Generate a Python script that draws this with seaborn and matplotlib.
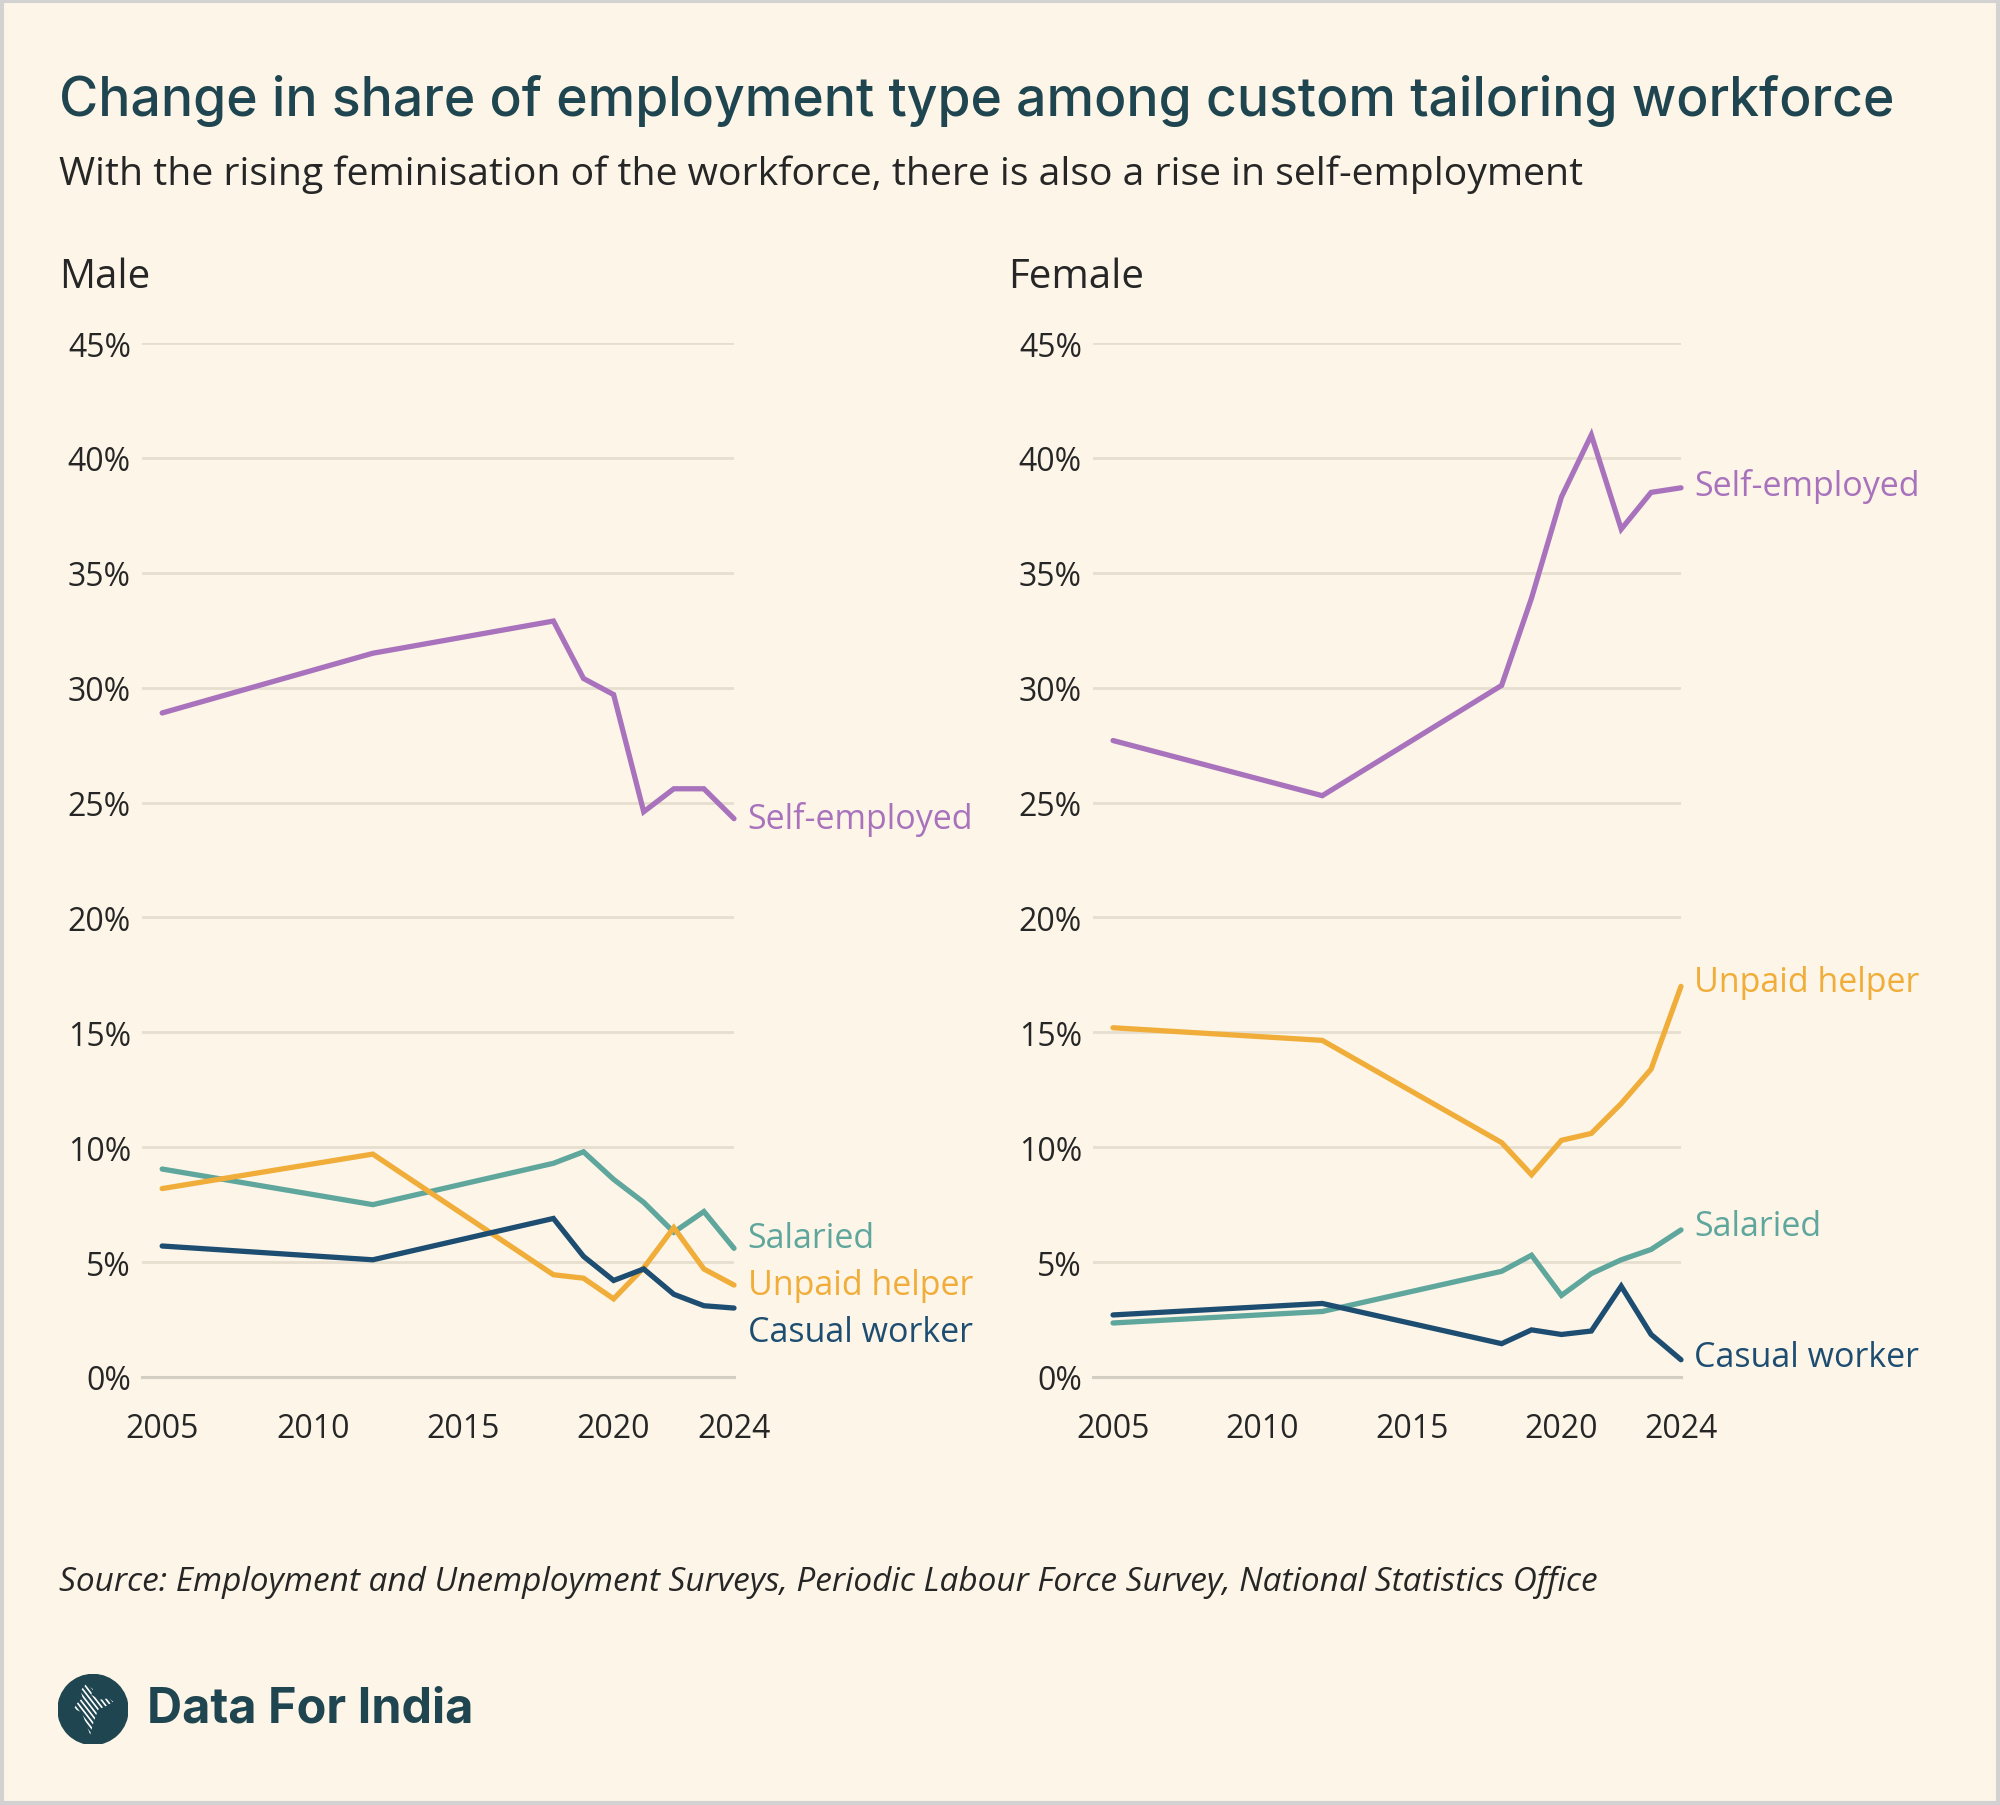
import pandas as pd
import matplotlib.pyplot as plt
import matplotlib.patches as mpatches
import seaborn as sns

# Values (share of workforce, %)
years = [2005, 2012, 2018, 2019, 2020, 2021, 2022, 2023, 2024]
categories = ["Self-employed", "Salaried", "Unpaid helper", "Casual worker"]

male_self = [28.9, 31.5, 32.9, 30.4, 29.7, 24.6, 25.6, 25.6, 24.3]
male_salaried = [9.05, 7.5, 9.3, 9.8, 8.6, 7.6, 6.3, 7.2, 5.6]
male_unpaid = [8.2, 9.7, 4.45, 4.3, 3.4, 4.75, 6.5, 4.7, 4.0]
male_casual = [5.7, 5.1, 6.9, 5.25, 4.2, 4.7, 3.6, 3.1, 3.0]

female_self = [27.7, 25.3, 30.1, 33.9, 38.3, 41.0, 36.9, 38.5, 38.7]
female_salaried = [2.35, 2.85, 4.6, 5.3, 3.55, 4.5, 5.1, 5.55, 6.4]
female_unpaid = [15.2, 14.65, 10.2, 8.8, 10.3, 10.6, 11.9, 13.4, 17.0]
female_casual = [2.7, 3.2, 1.45, 2.05, 1.85, 2.0, 3.95, 1.85, 0.75]

x_ticks = [2005, 2010, 2015, 2020, 2024]
y_ticks = [0, 5, 10, 15, 20, 25, 30, 35, 40, 45]

palette = {
    "Self-employed": "#A873BC",
    "Salaried": "#5FA69C",
    "Unpaid helper": "#F0AD3A",
    "Casual worker": "#1E4D72",
}
bg = "#FDF6E8"
dark = "#1F4650"
text_col = "#262626"
axis_col = "#D3CEC2"


def make_frame(series):
    rows = []
    for cat, vals in zip(categories, series):
        for yr, v in zip(years, vals):
            rows.append({"year": yr, "share": v, "type": cat})
    return pd.DataFrame(rows)


male_df = make_frame([male_self, male_salaried, male_unpaid, male_casual])
female_df = make_frame([female_self, female_salaried, female_unpaid, female_casual])

sns.set_theme(style="white", rc={"axes.facecolor": bg, "figure.facecolor": bg})
plt.rcParams["font.family"] = ["Open Sans", "DejaVu Sans"]

fig = plt.figure(figsize=(20, 18.06), dpi=100)
fig.patch.set_facecolor(bg)

# thin border round the card
fig.add_artist(mpatches.Rectangle((0.001, 0.001), 0.998, 0.998, transform=fig.transFigure,
                                  fill=False, edgecolor="#D2D2D2", linewidth=3))

ax_m = fig.add_axes([0.071, 0.237, 0.296, 0.5725])
ax_f = fig.add_axes([0.5465, 0.237, 0.294, 0.5725])

# label nudges so end labels do not collide
nudge_m = {"Self-employed": 0.0, "Salaried": 0.45, "Unpaid helper": 0.0, "Casual worker": -1.05}
nudge_f = {"Self-employed": 0.1, "Salaried": 0.15, "Unpaid helper": 0.2, "Casual worker": 0.1}

for ax, df, nudge in [(ax_m, male_df, nudge_m), (ax_f, female_df, nudge_f)]:
    ax.set_facecolor(bg)
    sns.lineplot(data=df, x="year", y="share", hue="type", palette=palette,
                 hue_order=categories, linewidth=3.8, ax=ax, legend=False)
    for line in ax.lines:
        line.set_clip_on(False)
        line.set_solid_joinstyle("miter")
    ax.set_xlim(2004.33, 2024)
    ax.set_ylim(0, 45)
    ax.set_yticks(y_ticks)
    ax.set_yticklabels([f"{t}%" for t in y_ticks])
    ax.set_xticks(x_ticks)
    ax.set_xlabel("")
    ax.set_ylabel("")
    for t in y_ticks[1:]:
        ax.axhline(t, color="#E6DFD0", linewidth=2, zorder=0)
    for s in ["top", "right", "left"]:
        ax.spines[s].set_visible(False)
    ax.spines["bottom"].set_color(axis_col)
    ax.spines["bottom"].set_linewidth(2.2)
    ax.tick_params(axis="y", length=0, pad=8, labelsize=23, labelcolor=text_col)
    ax.tick_params(axis="x", length=16, width=1.6, color=axis_col, pad=9,
                   labelsize=23, labelcolor=text_col)
    for cat in categories:
        end = df[(df["type"] == cat) & (df["year"] == years[-1])]["share"].iloc[0]
        ax.text(2024.45, end + nudge[cat], cat, color=palette[cat], fontsize=24.5,
                va="center", ha="left")

fig.text(0.0295, 0.846, "Male", fontsize=29, color=text_col, ha="left", va="center")
fig.text(0.504, 0.846, "Female", fontsize=29, color=text_col, ha="left", va="center")

fig.text(0.0295, 0.944, "Change in share of employment type among custom tailoring workforce",
         fontsize=38.5, color=dark, ha="left", va="center", weight="medium",
         family=["Inter", "DejaVu Sans"])
fig.text(0.0295, 0.903, "With the rising feminisation of the workforce, there is also a rise in self-employment",
         fontsize=28.2, color=text_col, ha="left", va="center")
fig.text(0.0295, 0.124, "Source: Employment and Unemployment Surveys, Periodic Labour Force Survey, National Statistics Office",
         fontsize=24, color=text_col, ha="left", va="center", style="italic")

# logo: circle with a striped outline of India
logo = fig.add_axes([0.029, 0.0335, 0.035, 0.0388])
logo.set_xlim(-1, 1)
logo.set_ylim(-1, 1)
logo.set_aspect("equal")
logo.axis("off")
logo.add_patch(mpatches.Circle((0, 0), 1, color=dark))
india = mpatches.Polygon([(-0.2, 0.72), (0.0, 0.58), (-0.05, 0.42), (0.2, 0.28), (0.45, 0.32),
                          (0.58, 0.22), (0.38, 0.1), (0.15, 0.0), (0.02, -0.35), (-0.08, -0.72),
                          (-0.22, -0.35), (-0.32, -0.08), (-0.55, 0.02), (-0.45, 0.18),
                          (-0.3, 0.33), (-0.35, 0.55)], closed=True, fill=False, lw=0)
logo.add_patch(india)
for k in range(-8, 9):
    off = k * 0.15
    ln, = logo.plot([-1 + off, 1 + off], [1.3, -1.3], color="white", lw=1.2)
    ln.set_clip_path(india)
fig.text(0.0735, 0.0535, "Data For India", fontsize=35, color=dark, ha="left", va="center",
         weight="bold", family=["Inter", "DejaVu Sans"])

fig.savefig("out.png", dpi=100, facecolor=bg)
